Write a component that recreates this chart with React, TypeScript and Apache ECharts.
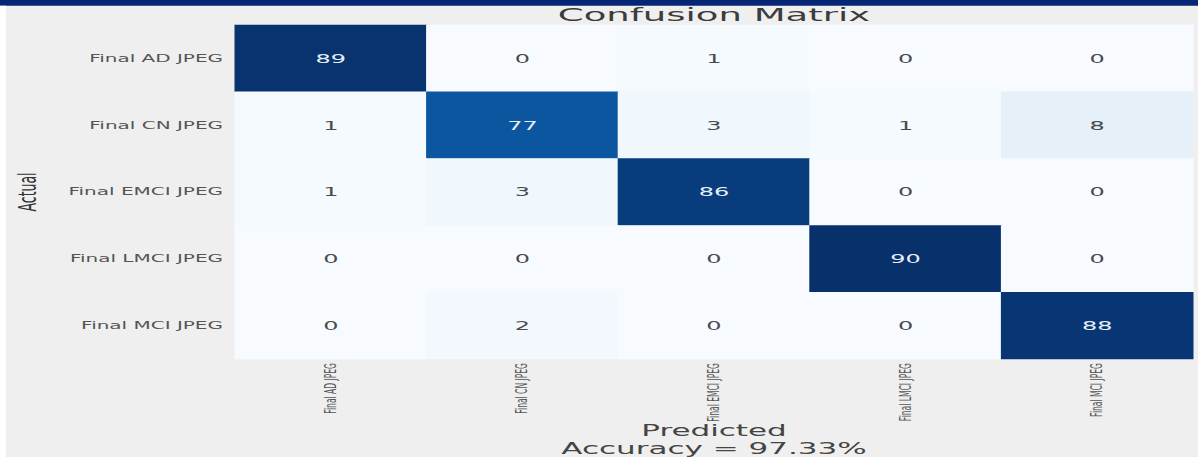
import React, { useEffect, useRef } from "react";
import * as echarts from "echarts";

const predictedLabels = ["Final AD JPEG", "Final CN JPEG", "Final EMCI JPEG", "Final LMCI JPEG", "Final MCI JPEG"];
const actualLabels = ["Final AD JPEG", "Final CN JPEG", "Final EMCI JPEG", "Final LMCI JPEG", "Final MCI JPEG"];

const rowAD = [89, 0, 1, 0, 0];
const rowCN = [1, 77, 3, 1, 8];
const rowEMCI = [1, 3, 86, 0, 0];
const rowLMCI = [0, 0, 0, 90, 0];
const rowMCI = [0, 2, 0, 0, 88];
const matrix = [rowAD, rowCN, rowEMCI, rowLMCI, rowMCI];

const titleText = "Confusion Matrix";
const xName = "Predicted\nAccuracy = 97.33%";
const yName = "Actual";

const blues = ["#f7fbff", "#deebf7", "#c6dbef", "#9ecae1", "#6baed6", "#4292c6", "#2171b5", "#08519c", "#08306b"];

// internal drawing width; the reference is stretched 2x horizontally
const SX = 2;
const W = 1198 / SX;
const H = 457;

export default function App() {
  const ref = useRef<HTMLDivElement>(null);

  useEffect(() => {
    if (!ref.current) return;
    const chart = echarts.init(ref.current, null, { renderer: "svg" });

    const data: any[] = [];
    matrix.forEach((row, i) => {
      row.forEach((v, j) => {
        data.push({
          value: [j, i, v],
          label: { color: v > 45 ? "#e6eef8" : "#4a4a4a" },
        });
      });
    });

    const gridLeft = 117.5;
    const gridTop = 25;
    const gridW = 479;
    const gridH = 334;

    chart.setOption({
      animation: false,
      backgroundColor: "#efefef",
      textStyle: { fontFamily: "DejaVu Sans" },
      grid: { left: gridLeft, top: gridTop, width: gridW, height: gridH, outerBoundsMode: "none", containLabel: false },
      xAxis: {
        type: "category",
        data: predictedLabels,
        position: "bottom",
        axisLine: { show: false },
        axisTick: { show: false },
        splitLine: { show: false },
        axisLabel: { rotate: 90, fontSize: 7.6, color: "#555", margin: 4 },
        name: xName,
        nameLocation: "middle",
        nameMoveOverlap: false,
        nameGap: 63,
        nameTextStyle: { fontSize: 15.5, lineHeight: 18, color: "#444" },
      },
      yAxis: {
        type: "category",
        data: actualLabels,
        inverse: true,
        axisLine: { show: false },
        axisTick: { show: false },
        splitLine: { show: false },
        axisLabel: { fontSize: 10, color: "#555", margin: 6 },
        name: yName,
        nameLocation: "middle",
        nameRotate: 90,
        nameGap: 97,
        nameTextStyle: { fontSize: 12.5, color: "#333" },
      },
      visualMap: {
        show: false,
        type: "continuous",
        min: 0,
        max: 90,
        dimension: 2,
        inRange: { color: blues },
      },
      graphic: [
        { type: "rect", shape: { x: 0, y: 0, width: W, height: 5.7 }, style: { fill: "#062575" }, silent: true },
        { type: "rect", shape: { x: 0, y: 5.7, width: 3, height: H }, style: { fill: "#ffffff" }, silent: true },
        {
          type: "text",
          x: gridLeft + gridW / 2,
          y: 5,
          silent: true,
          style: { text: titleText, align: "center", verticalAlign: "top", fontSize: 18.5, fill: "#3c3c3c", fontFamily: "DejaVu Sans" },
        },
      ],
      series: [
        {
          type: "heatmap",
          data,
          label: { show: true, fontSize: 12 },
          itemStyle: { borderWidth: 0 },
          emphasis: { disabled: true },
        },
      ],
    });

    return () => chart.dispose();
  }, []);

  return (
    <div style={{ position: "fixed", left: 0, top: 0, width: 1198, height: 457, overflow: "hidden", background: "#ffffff" }}>
      <div
        ref={ref}
        style={{ width: W, height: H, transform: `scaleX(${SX})`, transformOrigin: "0 0" }}
      />
    </div>
  );
}
